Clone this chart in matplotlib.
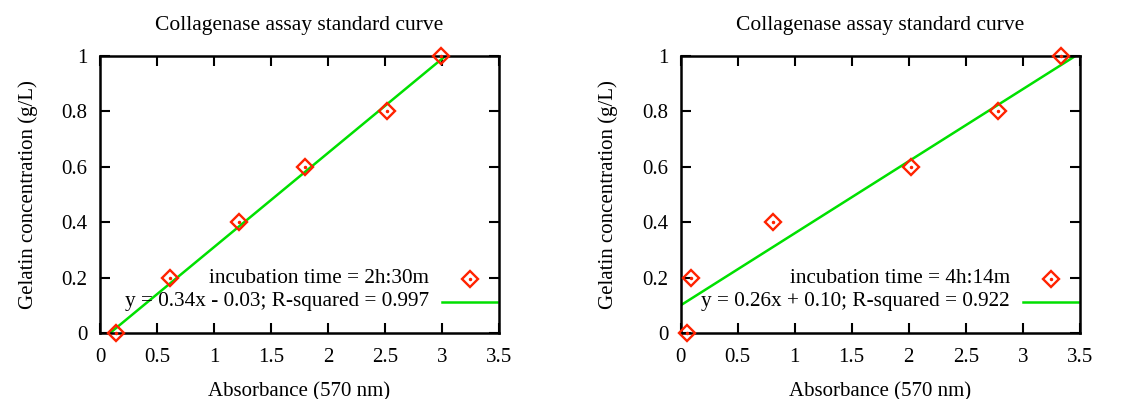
import matplotlib.pyplot as plt
import numpy as np

plt.rcParams['font.family'] = ['Liberation Serif', 'DejaVu Serif']

# standard curve readings for the two incubation times
abs_2h30 = [0.137, 0.615, 1.216, 1.797, 2.52, 2.99]
abs_4h14 = [0.058, 0.093, 0.81, 2.02, 2.78, 3.34]
gelatin = [0.0, 0.2, 0.4, 0.6, 0.8, 1.0]

fits = [(0.34, -0.03, 0.997), (0.26, 0.10, 0.922)]
labels = ['incubation time = 2h:30m', 'incubation time = 4h:14m']
fit_labels = ['y = 0.34x - 0.03; R-squared = 0.997',
              'y = 0.26x + 0.10; R-squared = 0.922']
xticks = [0, 0.5, 1, 1.5, 2, 2.5, 3, 3.5]
yticks = [0, 0.2, 0.4, 0.6, 0.8, 1]

RED = '#ff2200'
GREEN = '#00e000'
FS = 15

W, H = 1146, 399
fig = plt.figure(figsize=(W / 100, H / 100), dpi=100)

panels = [(100, abs_2h30), (680.7, abs_4h14)]
for i, (left, xs) in enumerate(panels):
    ax = fig.add_axes([left / W, (H - 333) / H, 399 / W, 277 / H])
    slope, icpt, r2 = fits[i]
    xf = np.linspace(0, 3.5, 300)
    ax.plot(xf, slope * xf + icpt, color=GREEN, lw=1.8, zorder=2)
    ax.plot(xs, gelatin, ls='none', marker='D', ms=8, mfc='none',
            mec=RED, mew=1.7, zorder=3, clip_on=False)
    ax.plot(xs, gelatin, ls='none', marker='o', ms=1.5, color=RED,
            zorder=3, clip_on=False)
    ax.set_xlim(0, 3.5)
    ax.set_ylim(0, 1)
    ax.set_xticks(xticks)
    ax.set_xticklabels([f'{t:g}' for t in xticks])
    ax.set_yticks(yticks)
    ax.set_yticklabels([f'{t:g}' for t in yticks])
    ax.tick_params(direction='in', length=7, width=1.5, top=True, right=True,
                   labelsize=FS)
    ax.tick_params(axis='x', pad=10.5)
    ax.tick_params(axis='y', pad=9)
    for s in ax.spines.values():
        s.set_linewidth(1.8)
    ax.set_title('Collagenase assay standard curve', fontsize=FS + 0.5, pad=19)
    ax.set_xlabel('Absorbance (570 nm)', fontsize=FS, labelpad=11)
    ax.set_ylabel('Gelatin concentration (g/L)', fontsize=FS, labelpad=17)

    # key in the lower right corner
    ax.text(0.825, 0.195, labels[i], transform=ax.transAxes, ha='right',
            va='center', fontsize=FS + 0.3)
    ax.plot([0.927], [0.195], transform=ax.transAxes, marker='D', ms=8,
            mfc='none', mec=RED, mew=1.7, ls='none')
    ax.plot([0.927], [0.195], transform=ax.transAxes, marker='o', ms=1.5,
            color=RED, ls='none')
    ax.text(0.825, 0.113, fit_labels[i], transform=ax.transAxes, ha='right',
            va='center', fontsize=FS + 0.3)
    ax.plot([0.858, 0.995], [0.113, 0.113], transform=ax.transAxes,
            color=GREEN, lw=1.8)

fig.savefig('out.png', dpi=100)
